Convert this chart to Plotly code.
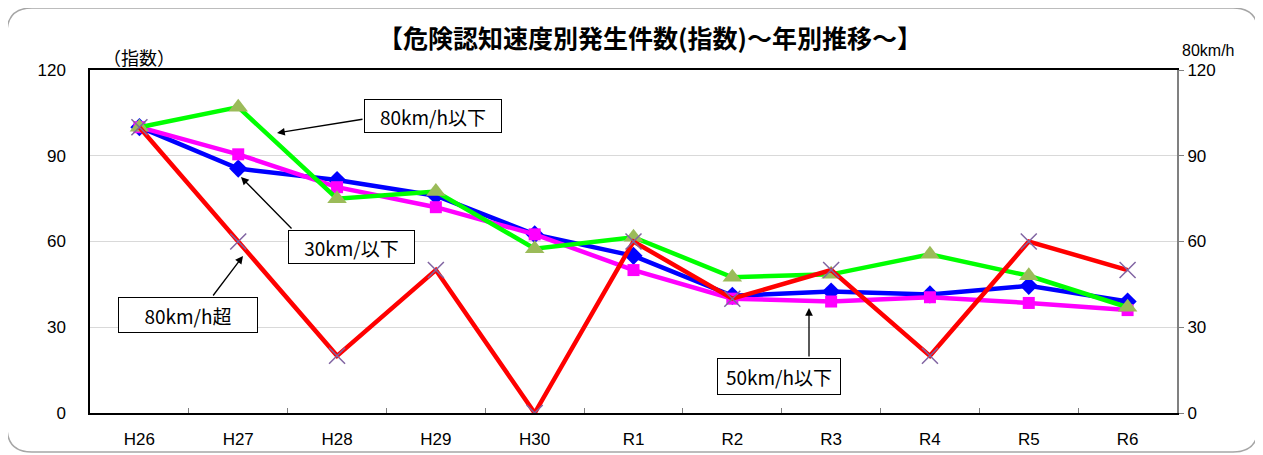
import plotly.graph_objects as go

categories = ["H26", "H27", "H28", "H29", "H30", "R1", "R2", "R3", "R4", "R5", "R6"]
s30 = [100, 85.5, 81.5, 76, 62.5, 55, 41, 42.5, 41.5, 44.5, 39]
s50 = [100, 90.5, 79, 72, 62.5, 50, 40, 39, 40.5, 38.5, 36]
s80 = [100, 107, 75, 77.5, 57.5, 61.5, 47.5, 48.5, 55.5, 48, 37]
s80over = [100, 60, 20, 50, 0, 60, 40, 50, 20, 60, 50]
yticks = [0, 30, 60, 90, 120]

OFF = 8  # page body margin
W, H = 1263 - OFF, 455 - OFF
# plot area in page pixels: x 90..1177, y 70..413
L, T = 90 - OFF, 70 - OFF
R = W - (1177 - OFF)
B = H - (413 - OFF)
PW, PH = W - L - R, H - T - B

def px(x):
    return (x - OFF - L) / PW

def py(y):
    return (H - B - (y - OFF)) / PH

JP = "Noto Sans CJK JP"
fig = go.Figure()

fig.add_trace(go.Scatter(x=categories, y=s30, mode="lines+markers", name="30km/h以下",
                         line=dict(color="#0000FF", width=4.5),
                         marker=dict(symbol="diamond", size=14, color="#0000FF")))
fig.add_trace(go.Scatter(x=categories, y=s50, mode="lines+markers", name="50km/h以下",
                         line=dict(color="#FF00FF", width=4.5),
                         marker=dict(symbol="square", size=12, color="#FF00FF")))
fig.add_trace(go.Scatter(x=categories, y=s80, mode="lines+markers", name="80km/h以下",
                         line=dict(color="#00FF00", width=4.5),
                         marker=dict(symbol="triangle-up", size=17, color="#9BBB59")))
fig.add_trace(go.Scatter(x=categories, y=s80over, mode="lines+markers", name="80km/h超",
                         yaxis="y2",
                         line=dict(color="#FF0000", width=4.5),
                         marker=dict(symbol="x-thin-open", size=16, color="#8064A2",
                                     line=dict(color="#8064A2", width=1.5))))

tickfont = dict(family="Liberation Sans, Arial", size=17, color="black")
fig.update_layout(
    width=W, height=H,
    margin=dict(l=L, r=R, t=T, b=B, autoexpand=False),
    paper_bgcolor="white", plot_bgcolor="white",
    showlegend=False,
    xaxis=dict(type="category", range=[-0.5, 10.5], showline=True, linecolor="black",
               linewidth=1.5, mirror=True, ticks="inside", tickson="boundaries",
               ticklen=5, tickcolor="#808080", showgrid=False, tickfont=tickfont,
               ticklabelstandoff=10),
    yaxis=dict(range=[0, 120], tickvals=yticks, showline=True, linecolor="black",
               linewidth=1.5, showgrid=True, gridcolor="#D9D9D9", gridwidth=1,
               ticks="", tickfont=tickfont, zeroline=False, ticklabelstandoff=19),
    yaxis2=dict(range=[0, 120], tickvals=yticks, overlaying="y", side="right",
                showline=True, linecolor="#808080", linewidth=2, ticks="outside",
                ticklen=5, tickcolor="#808080", showgrid=False, tickfont=tickfont,
                zeroline=False),
)

# outer rounded frame
x0, x1 = px(7), px(1258)
y0, y1 = py(452), py(8)
rx, ry = 25 / PW, 25 / PH
path = (f"M {x0+rx},{y1} L {x1-rx},{y1} Q {x1},{y1} {x1},{y1-ry} "
        f"L {x1},{y0+ry} Q {x1},{y0} {x1-rx},{y0} L {x0+rx},{y0} "
        f"Q {x0},{y0} {x0},{y0+ry} L {x0},{y1-ry} Q {x0},{y1} {x0+rx},{y1} Z")
fig.add_shape(type="path", path=path, xref="paper", yref="paper",
              line=dict(color="#A6A6A6", width=1.5), layer="below")

ann = []
ann.append(dict(text="<b>【危険認知速度別発生件数(指数)～年別推移～】</b>", x=px(650), y=py(37),
                font=dict(family=JP, size=25, color="black")))
ann.append(dict(text="（指数）", x=px(139), y=py(57), font=dict(family=JP, size=18, color="black")))
ann.append(dict(text="80km/h", x=px(1208), y=py(50),
                font=dict(family="Liberation Sans, Arial", size=16, color="black")))
for a in ann:
    a.update(xref="paper", yref="paper", showarrow=False, xanchor="center", yanchor="middle")
    fig.add_annotation(**a)

boxes = [
    ("80km/h以下", 433, 116, 138, 34),
    ("30km/以下", 351.5, 247, 127, 34),
    ("80km/h超", 188, 315, 140, 36),
    ("50km/h以下", 779, 376.5, 124, 37),
]
for txt, cx, cy, bw, bh in boxes:
    fig.add_annotation(text=txt, x=px(cx), y=py(cy), xref="paper", yref="paper",
                       showarrow=False, xanchor="center", yanchor="middle",
                       width=bw - 2, height=bh - 2, borderpad=0, borderwidth=1,
                       bordercolor="black", bgcolor="white",
                       font=dict(family=JP, size=19, color="black"))

arrows = [
    (277, 133, 364, 119),
    (241, 177, 293, 230),
    (243, 256, 212, 297),
    (809, 308, 809, 358),
]
for hx, hy, tx, ty in arrows:
    fig.add_annotation(text="", x=px(hx), y=py(hy), xref="paper", yref="paper",
                       showarrow=True, arrowhead=2, arrowsize=1.2, arrowwidth=1.3,
                       arrowcolor="black", ax=tx - hx, ay=ty - hy)

fig.write_html("out.html")
